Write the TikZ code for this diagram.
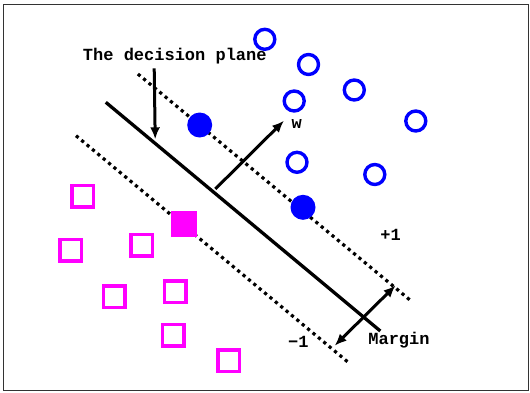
\documentclass[tikz,border=0pt]{standalone}
\usepackage{fontspec}
\setmonofont{Liberation Mono}
\usetikzlibrary{arrows.meta}
\definecolor{ptblue}{RGB}{0,0,255}
\definecolor{ptmag}{RGB}{255,0,255}
\tikzset{
  lbl/.style={font=\ttfamily\bfseries\fontsize{17}{17}\selectfont, inner sep=0pt},
  opencirc/.style={circle, draw=ptblue, line width=3.4pt, minimum size=20pt, inner sep=0pt},
  fullcirc/.style={circle, fill=ptblue, minimum size=25pt, inner sep=0pt},
  opensq/.style={rectangle, draw=ptmag, line width=3.4pt, minimum size=21.6pt, inner sep=0pt},
  fullsq/.style={rectangle, fill=ptmag, minimum size=26pt, inner sep=0pt},
  dotline/.style={line width=3.2pt, dash pattern=on 3.2pt off 3.8pt},
  solidline/.style={line width=3.3pt},
  arr/.style={line width=3pt, -{Latex[length=12pt,width=10pt]}},
  darr/.style={line width=3pt, {Latex[length=12pt,width=10pt]}-{Latex[length=12pt,width=10pt]}}
}
\begin{document}
\begin{tikzpicture}[x=1pt,y=-1pt]
\useasboundingbox (0,0) rectangle (530,392);
\draw[line width=1.3pt, draw=black!80] (3.5,4.5) rectangle (528.5,390.5);
% lines
\coordinate (dA) at (105.8,102.3);
\coordinate (dB) at (380.3,331);
\coordinate (uA) at (137.9,74);
\coordinate (uB) at (410.8,300.7);
\coordinate (lA) at (76,135.7);
\coordinate (lB) at (348.2,362.3);
\draw[dotline] (uA) -- (uB);
\draw[dotline] (lA) -- (lB);
\draw[solidline] (dA) -- (dB);
% open circles
\node[opencirc] (c1) at (264.8,39.3) {};
\node[opencirc] (c2) at (308.5,64.5) {};
\node[opencirc] (c3) at (294.2,101) {};
\node[opencirc] (c4) at (354.3,90) {};
\node[opencirc] (c5) at (415.8,121) {};
\node[opencirc] (c6) at (297,162.3) {};
\node[opencirc] (c7) at (374.8,174.5) {};
\node[fullcirc] (f1) at (199.7,125) {};
\node[fullcirc] (f2) at (303,207.3) {};
% squares
\node[opensq] (s1) at (82.7,196) {};
\node[opensq] (s2) at (70.7,250) {};
\node[opensq] (s3) at (141.7,245) {};
\node[opensq] (s4) at (114,296.7) {};
\node[opensq] (s5) at (175.3,291.7) {};
\node[opensq] (s6) at (173.3,335) {};
\node[opensq] (s7) at (228.7,360.7) {};
\node[fullsq] (fs) at (184,224) {};
% labels
\node[lbl] (dp) at (174.8,56) {The decision plane};
\node[lbl] (w) at (296.8,124) {w};
\node[lbl] (p1) at (390.6,235) {+1};
\node[lbl] (m1) at (298.4,342) {−1};
\node[lbl] (mg) at (399,340) {Margin};
% arrows
\coordinate (dpS) at (154.2,68.3);
\coordinate (dpE) at (155.2,139.3);
\draw[arr] (dpS) -- (dpE);
\coordinate (wS) at (215.3,189);
\coordinate (wE) at (284,120.7);
\draw[arr] (wS) -- (wE);
\coordinate (mA) at (334.7,345.7);
\coordinate (mB) at (395.5,285.5);
\draw[darr] (mA) -- (mB);
\end{tikzpicture}
\end{document}
